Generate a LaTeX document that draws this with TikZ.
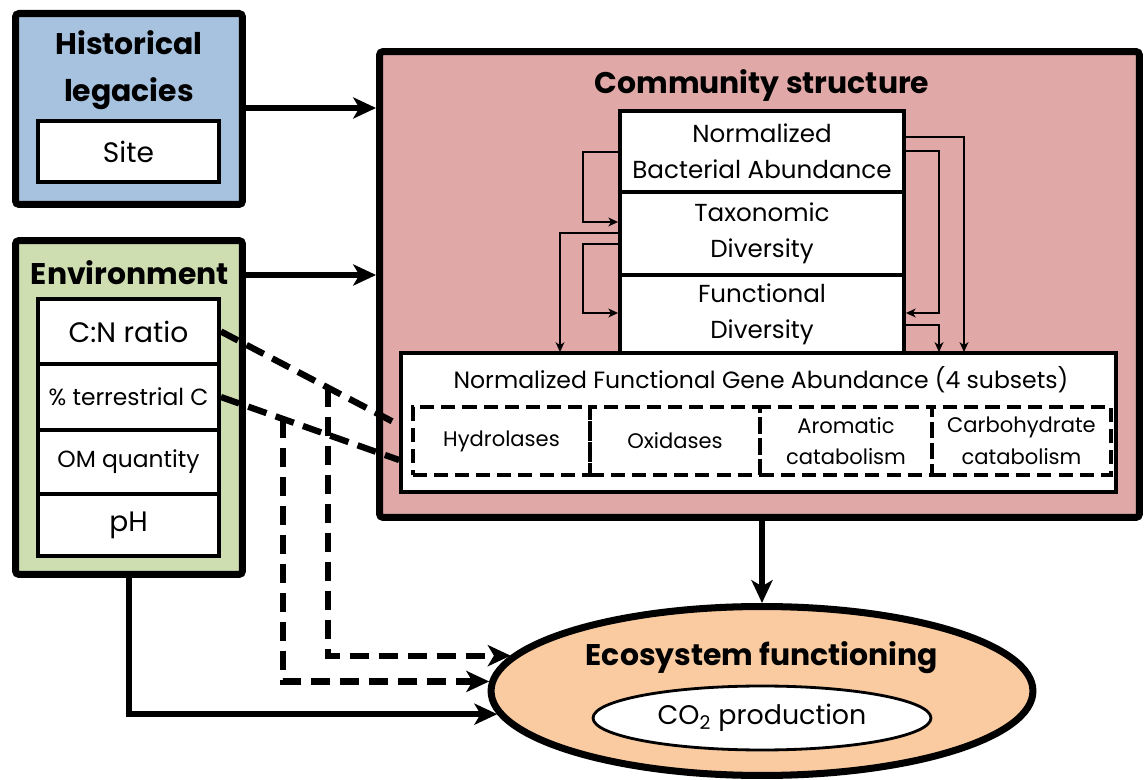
\documentclass[tikz,border=0pt]{standalone}
\usepackage{fontspec}
\setmainfont{Poppins}
\usetikzlibrary{shapes.geometric,arrows.meta}
\definecolor{histblue}{RGB}{167,194,223}
\definecolor{envgreen}{RGB}{206,222,176}
\definecolor{commpink}{RGB}{224,168,167}
\definecolor{ecoorange}{RGB}{250,203,161}
\newcommand\bigfont{\fontsize{17}{27}\selectfont\bfseries}
\newcommand\midfont{\fontsize{14}{20.5}\selectfont}
\newcommand\largefont{\fontsize{16}{20}\selectfont}
\newcommand\smallfont{\fontsize{13.3}{18}\selectfont}

\begin{document}
\begin{tikzpicture}[x=0.02cm,y=-0.02cm,
    bigbox/.style={draw,line width=4pt,rounded corners=2pt,inner sep=0pt},
    whitebox/.style={draw,fill=white,line width=2.2pt,inner sep=0pt,align=center},
    subset/.style={draw,dash pattern=on 8pt off 4pt,line width=2.2pt,inner sep=0pt,
      minimum height=1.36cm,align=center,font=\fontsize{12}{18}\selectfont},
    boldtxt/.style={align=center,font=\bigfont,inner sep=0pt},
    txt/.style={align=center,font=\fontsize{13.4}{18}\selectfont,inner sep=0pt},
    arr/.style={line width=3.6pt,-{Stealth[length=13pt,width=12pt,inset=3.5pt]}},
    thinarr/.style={line width=1.1pt,-{Stealth[length=5.5pt,width=5pt,inset=1.5pt]}},
    dashline/.style={line width=3.6pt,dash pattern=on 11pt off 5.5pt}]
        \useasboundingbox (0,0) rectangle (1144,780);

        % left column
        \node[bigbox,fill=histblue,minimum width=4.54cm,minimum height=3.82cm] (hist) at (129,109) {};
        \node[boldtxt] (histlbl) at (129,70) {Historical\\legacies};
        \node[whitebox,minimum width=3.62cm,minimum height=1.22cm,font=\largefont] (site) at (128.5,151.5) {Site};

        \node[bigbox,fill=envgreen,minimum width=4.54cm,minimum height=6.68cm] (env) at (129,407.5) {};
        \node[boldtxt] (envlbl) at (130,273) {Environment};
        \node[whitebox,minimum width=3.62cm,minimum height=1.3cm,font=\largefont] (cn) at (128.5,331.5) {C:N ratio};
        \node[whitebox,minimum width=3.62cm,minimum height=1.32cm,font=\smallfont] (terr) at (128.5,397) {\% terrestrial C};
        \node[whitebox,minimum width=3.62cm,minimum height=1.28cm,font=\smallfont] (om) at (128.5,462) {OM quantity};
        \node[whitebox,minimum width=3.62cm,minimum height=1.24cm,font=\largefont] (ph) at (128.5,525) {pH};

        % community structure
        \node[bigbox,fill=commpink,minimum width=15.2cm,minimum height=9.32cm] (comm) at (759.5,284.5) {};
        \node[boldtxt] (commlbl) at (762,86) {Community structure};
        \node[whitebox,minimum width=5.68cm,minimum height=1.62cm,font=\midfont] (nba) at (762,151.5) {Normalized\\Bacterial Abundance};
        \node[whitebox,minimum width=5.68cm,minimum height=1.66cm,font=\midfont] (tax) at (762,233.5) {Taxonomic\\Diversity};
        \node[whitebox,minimum width=5.68cm,minimum height=1.56cm,font=\midfont] (func) at (762,314) {Functional\\Diversity};

        \draw[thinarr] (nba.west |- 0,152) -| (583,222) -- (tax.west |- 0,222);
        \draw[thinarr] (tax.west |- 0,233) -| (560,352);
        \draw[thinarr] (tax.west |- 0,244) -| (583,313) -- (func.west |- 0,313);
        \draw[thinarr] (nba.east |- 0,137) -| (964,352);
        \draw[thinarr] (nba.east |- 0,151) -| (939,313) -- (func.east |- 0,313);
        \draw[thinarr] (func.east |- 0,325) -| (939,352);

        \node[whitebox,minimum width=14.3cm,minimum height=2.78cm] (fga) at (758.5,422.5) {};
        \node[txt] (fgalbl) at (761,380) {Normalized Functional Gene Abundance (4 subsets)};
        \node[subset,minimum width=3.54cm] (hydro) at (501.5,441) {Hydrolases};
        \node[subset,minimum width=3.4cm] (oxi) at (675,441) {Oxidases};
        \node[subset,minimum width=3.44cm] (arom) at (846,441) {Aromatic\\catabolism};
        \node[subset,minimum width=3.58cm] (carb) at (1021.5,441) {Carbohydrate\\catabolism};

        % ecosystem functioning
        \node[ellipse,draw,fill=ecoorange,line width=4pt,inner sep=0pt,
          minimum width=10.84cm,minimum height=3.38cm] (eco) at (762,691) {};
        \node[boldtxt] (ecolbl) at (762,658) {Ecosystem functioning};
        \node[ellipse,draw,fill=white,line width=1.6pt,inner sep=0pt,
          minimum width=6.76cm,minimum height=1.28cm,font=\fontsize{15.3}{18}\selectfont] (co2) at (762,718) {CO\textsubscript{2} production};

        % connectors
        \draw[arr] (hist.east |- 0,108) -- (comm.west |- 0,108);
        \draw[arr] (env.east |- 0,275) -- (comm.west |- 0,275);
        \draw[arr] (eco.north |- comm.south) -- (eco.north);
        \draw[arr] (env.south) |- (eco.185);

        \draw[dashline] (cn.east) -- coordinate[pos=0.6] (cnfork) (fga.west |- 0,425);
        \draw[dashline] (terr.east) -- coordinate[pos=0.35] (terrfork) (fga.west |- 0,460);
        \draw[dashline,-{Stealth[length=13pt,width=12pt,inset=3.5pt]}] (cnfork) |- (eco.172);
        \draw[dashline,-{Stealth[length=13pt,width=12pt,inset=3.5pt]}] (terrfork) |- (eco.178);
      \end{tikzpicture}
\end{document}
